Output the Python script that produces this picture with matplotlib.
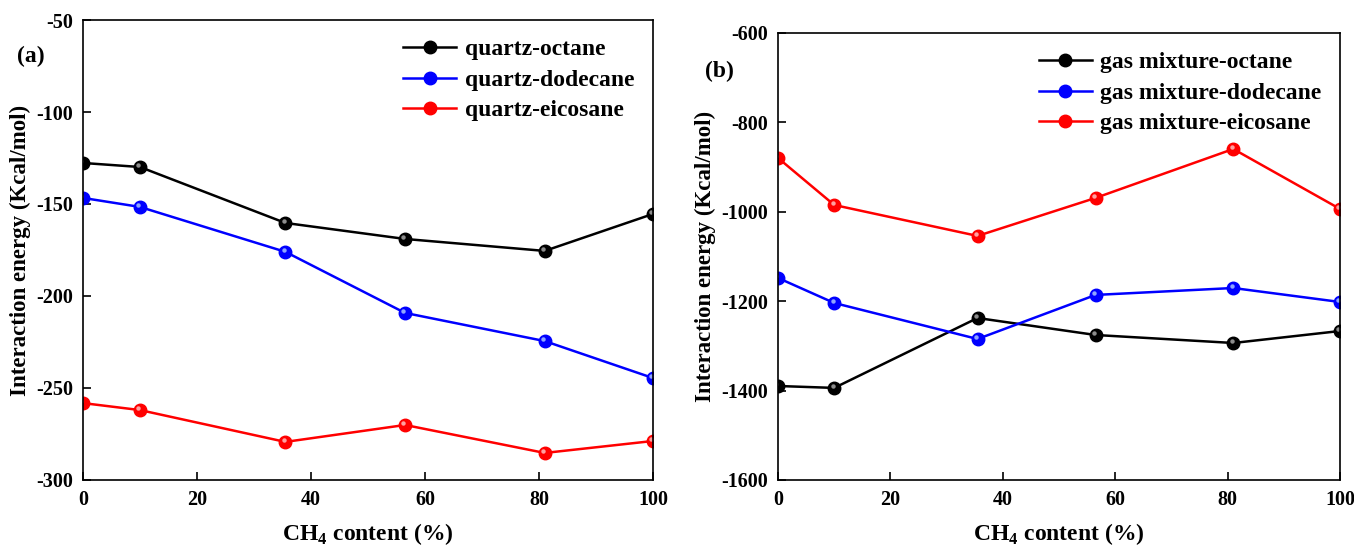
import matplotlib.pyplot as plt
from matplotlib.transforms import ScaledTranslation

plt.rcParams["font.family"] = ["Liberation Serif", "DejaVu Serif"]
plt.rcParams["font.weight"] = "bold"
plt.rcParams["mathtext.fontset"] = "custom"
plt.rcParams["mathtext.rm"] = "Liberation Serif:bold"

ch4 = [0, 10, 35.5, 56.5, 81, 100]

quartz_octane = [-127.7, -129.9, -160.3, -169.0, -175.5, -155.4]
quartz_dodecane = [-146.7, -151.6, -176.0, -209.2, -224.5, -244.6]
quartz_eicosane = [-258.2, -262.0, -279.3, -270.1, -285.3, -278.8]

gas_octane = [-1389.7, -1394.0, -1237.6, -1275.6, -1293.5, -1266.7]
gas_dodecane = [-1148.0, -1204.0, -1284.6, -1186.0, -1170.5, -1201.8]
gas_eicosane = [-879.6, -984.8, -1054.0, -969.0, -859.5, -993.7]

colors = ["black", "blue", "red"]
shine = ["#8c8c8c", "#8fa5ff", "#ffa0a0"]

fig = plt.figure(figsize=(13.54, 5.48), dpi=100)
ax1 = fig.add_axes([0.0613, 0.1241, 0.421, 0.8394])
ax2 = fig.add_axes([0.5746, 0.1241, 0.4151, 0.8157])


def draw(ax, series, names, ylim, yticks, ylabels):
    hl = ax.transData + ScaledTranslation(-1.2 / 72, 1.2 / 72, fig.dpi_scale_trans)
    for vals, name, c, s in zip(series, names, colors, shine):
        ax.plot(ch4, vals, color=c, lw=1.8, marker="o", ms=9,
                mfc=c, mec=c, label=name)
        # small highlight on each ball, nudged up-left
        ax.plot(ch4, vals, ls="none", marker="o", ms=3.2, mfc=s, mec="none",
                transform=hl)
    ax.set_xlim(0, 100)
    ax.set_ylim(*ylim)
    ax.set_xticks([0, 20, 40, 60, 80, 100])
    ax.set_yticks(yticks)
    ax.set_yticklabels(ylabels)
    ax.tick_params(direction="in", length=6, width=1.2, labelsize=14.5,
                   top=False, right=False, pad=7)
    for sp in ax.spines.values():
        sp.set_linewidth(1.2)
    ax.set_xlabel("CH$_4$ content (%)", fontsize=17, fontweight="bold", labelpad=8)
    ax.set_ylabel("Interaction energy (Kcal/mol)", fontsize=16.5,
                  fontweight="bold", labelpad=4)
    ax.legend(loc="upper right", frameon=False, fontsize=17,
              handlelength=2.25, handletextpad=0.35, labelspacing=0.38,
              borderaxespad=0.4)


draw(ax1, [quartz_octane, quartz_dodecane, quartz_eicosane],
     ["quartz-octane", "quartz-dodecane", "quartz-eicosane"],
     (-300, -50), [-300, -250, -200, -150, -100, -50],
     ["-300", "-250", "-200", "-150", "-100", "-50"])
draw(ax2, [gas_octane, gas_dodecane, gas_eicosane],
     ["gas mixture-octane", "gas mixture-dodecane", "gas mixture-eicosane"],
     (-1600, -600), [-1600, -1400, -1200, -1000, -800, -600],
     ["-1600", "-1400", "-1200", "-1000", "-800", "-600"])

fig.text(0.0125, 0.897, "(a)", fontsize=17, fontweight="bold", va="center")
fig.text(0.5205, 0.869, "(b)", fontsize=17, fontweight="bold", va="center")

fig.savefig("out.png", dpi=100)
